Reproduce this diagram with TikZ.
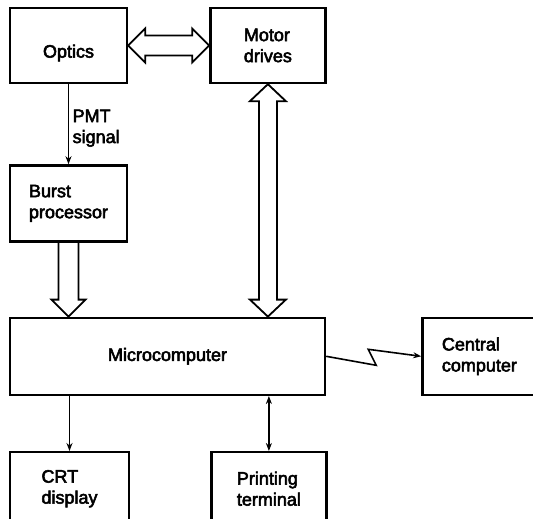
\documentclass[tikz,border=0pt]{standalone}
\usepackage{fontspec}
\setmainfont{Liberation Sans}
\newfontfamily\boxfont{Liberation Sans}[FakeBold=3]
\usepackage{tikz}
\usetikzlibrary{calc}
\usetikzlibrary{positioning, arrows.meta}

\tikzset{
  box/.style={draw, line width=2.4pt, minimum width=117pt, minimum height=75pt,
    inner sep=0pt, align=left, font=\boxfont\fontsize{18}{21}\selectfont},
  sig/.style={line width=1.6pt, -{Stealth[length=8pt, width=6pt]}},
  sigboth/.style={line width=1.6pt, {Stealth[length=8pt, width=6pt]}-{Stealth[length=8pt, width=6pt]}},
  fat/.style={line width=1.8pt, line join=miter},
}

\begin{document}
\begin{tikzpicture}[x=1pt, y=1pt]
    \useasboundingbox (0,0) rectangle (533,-519);
    % top row
    \node (optics) [box, text height=28pt] at (68.5,-45.5) {Optics};
    \node (motor) [box, minimum width=115pt, right=81pt of optics] {Motor\\drives};
    \node (burst) [box, minimum height=76pt, below=80pt of optics] {Burst\\processor};
    % middle row
    \node (micro) [box, minimum width=315pt, minimum height=77pt, below=74pt of burst.south west, anchor=north west] {Microcomputer};
    \node (central) [box, minimum width=114pt, minimum height=77pt, right=95pt of micro] {Central\\computer};
    % bottom row
    \node (crt) [box, minimum width=119pt, minimum height=73pt, below=55pt of micro.south west, anchor=north west] {CRT\\display};
    \node (printing) [box, minimum width=115pt, minimum height=73pt, right=80pt of crt] {Printing\\terminal};

    % fat (bus) arrows
    \draw [fat] (optics.east) -- ++(17,17) -- ++(0,-7) -- ($(motor.west)+(-17,10)$) -- ++(0,7) -- (motor.west)
        -- ++(-17,-17) -- ++(0,7) -- ($(optics.east)+(17,-10)$) -- ++(0,-7) -- cycle;
    \draw [fat] (motor.south) -- ++(18,-17) -- ++(-9,0) -- ($(motor.south |- micro.north)+(9,17)$) -- ++(9,0)
        -- (motor.south |- micro.north) -- ++(-18,17) -- ++(9,0) -- ($(motor.south)+(-9,-17)$) -- ++(-9,0) -- cycle;
    \draw [fat] ($(burst.south)+(-10,0)$) -- ++(0,-57) -- ++(-7,0) -- (burst.south |- micro.north)
        -- ++(17,17) -- ++(-7,0) -- ($(burst.south)+(10,0)$);

    % signal lines
    \draw [sig] (optics.south) -- (burst.north) node[midway, right, yshift=-4pt, align=left, font=\boxfont\fontsize{18}{21}\selectfont] {PMT\\signal};
    \draw [sig] (crt.north |- micro.south) -- (crt.north);
    \draw [sigboth] (printing.north |- micro.south) -- (printing.north);
    \draw [sig] (micro.east) -- ++(50,-9) -- ++(-8,16) -- (central.west); % data link
\end{tikzpicture}
\end{document}
